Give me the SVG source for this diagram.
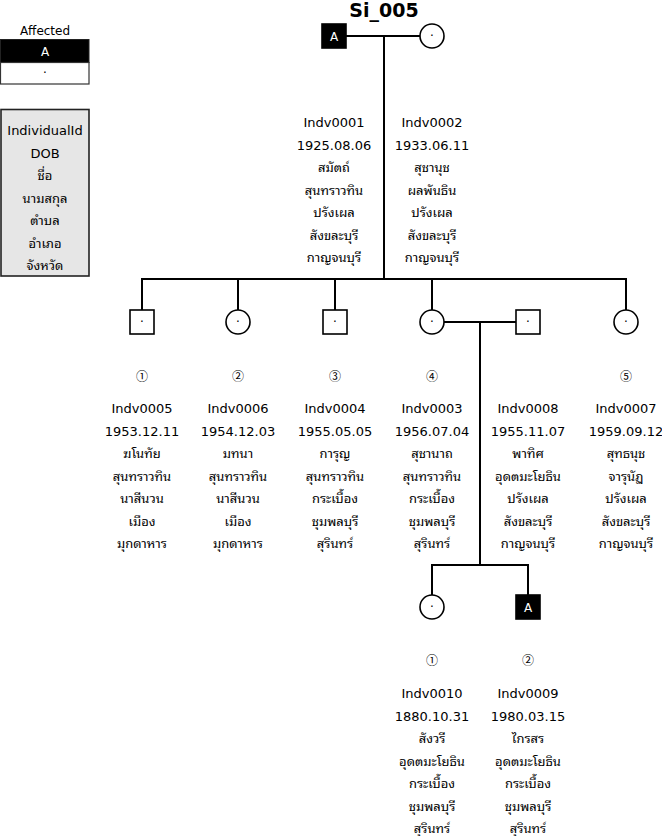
<svg xmlns="http://www.w3.org/2000/svg" width="662" height="836" viewBox="0 0 662 836">
<style>
text{font-family:"DejaVu Sans","Noto Sans Thai Looped","Noto Serif Thai","Noto Sans",sans-serif;text-anchor:middle;fill:#000}
.lbl{font-size:13px}
.sym{fill:#fff;stroke:#000;stroke-width:1.6}
.aff{fill:#000;stroke:#000;stroke-width:1.6}
.wt{fill:#fff;font-size:12px}
.dot{font-size:12px}
.num{font-size:12px;font-family:"Noto Sans CJK SC","Noto Sans CJK JP",sans-serif}
.ln{stroke:#000;stroke-width:2;fill:none}
</style>
<rect width="662" height="836" fill="#fff"/>
<text x="384" y="17" style="font-size:19px;font-weight:bold">Si_005</text>

<g id="legend-affected">
<text x="45" y="35" style="font-size:12px">Affected</text>
<rect x="0.5" y="39.5" width="88.5" height="23" fill="#000" stroke="#222" stroke-width="1"/>
<text x="45" y="56" class="wt">A</text>
<rect x="0.5" y="62.5" width="88.5" height="21.5" fill="#fff" stroke="#333" stroke-width="1.2"/>
<text x="45" y="77" class="dot">·</text>
</g>

<g id="legend-fields">
<rect x="1" y="109.5" width="88" height="166.5" fill="#e6e6e6" stroke="#222" stroke-width="1.6"/>
<text class="lbl" x="45" y="135">IndividualId</text>
<text class="lbl" x="45" y="157.5">DOB</text>
<text class="lbl" x="45" y="180">ชื่อ</text>
<text class="lbl" x="45" y="202.5">นามสกุล</text>
<text class="lbl" x="45" y="225">ตำบล</text>
<text class="lbl" x="45" y="247.5">อำเภอ</text>
<text class="lbl" x="45" y="270">จังหวัด</text>
</g>

<g id="connectors">
<line class="ln" x1="346" y1="36" x2="420" y2="36"/>
<line class="ln" x1="384" y1="36" x2="384" y2="279"/>
<line class="ln" x1="141" y1="279" x2="627" y2="279"/>
<line class="ln" x1="142" y1="279" x2="142" y2="310"/>
<line class="ln" x1="238" y1="279" x2="238" y2="310"/>
<line class="ln" x1="335" y1="279" x2="335" y2="310"/>
<line class="ln" x1="432" y1="279" x2="432" y2="310"/>
<line class="ln" x1="626" y1="279" x2="626" y2="310"/>
<line class="ln" x1="444" y1="322" x2="516" y2="322"/>
<line class="ln" x1="480" y1="322" x2="480" y2="565"/>
<line class="ln" x1="431" y1="565" x2="529" y2="565"/>
<line class="ln" x1="432" y1="565" x2="432" y2="595"/>
<line class="ln" x1="528" y1="565" x2="528" y2="595"/>
</g>

<g id="Indv0001">
<rect class="aff" x="322" y="24" width="24" height="24"/>
<text x="334" y="40.5" class="wt">A</text>
<text class="lbl" x="334" y="127">Indv0001</text>
<text class="lbl" x="334" y="149.5">1925.08.06</text>
<text class="lbl" x="334" y="172">สมัตถ์</text>
<text class="lbl" x="334" y="194.5">สุนทราวทิน</text>
<text class="lbl" x="334" y="217">ปรังเผล</text>
<text class="lbl" x="334" y="239.5">สังขละบุรี</text>
<text class="lbl" x="334" y="262">กาญจนบุรี</text>
</g>

<g id="Indv0002">
<circle class="sym" cx="432" cy="36" r="12"/>
<text x="432" y="40" class="dot">·</text>
<text class="lbl" x="432" y="127">Indv0002</text>
<text class="lbl" x="432" y="149.5">1933.06.11</text>
<text class="lbl" x="432" y="172">สุชานุช</text>
<text class="lbl" x="432" y="194.5">ผลพันธิน</text>
<text class="lbl" x="432" y="217">ปรังเผล</text>
<text class="lbl" x="432" y="239.5">สังขละบุรี</text>
<text class="lbl" x="432" y="262">กาญจนบุรี</text>
</g>

<g id="Indv0005">
<rect class="sym" x="130" y="310" width="24" height="24"/>
<text x="142" y="326" class="dot">·</text>
<text class="num" x="142" y="381">①</text>
<text class="lbl" x="142" y="413">Indv0005</text>
<text class="lbl" x="142" y="435.5">1953.12.11</text>
<text class="lbl" x="142" y="458">ฆโนทัย</text>
<text class="lbl" x="142" y="480.5">สุนทราวทิน</text>
<text class="lbl" x="142" y="503">นาสีนวน</text>
<text class="lbl" x="142" y="525.5">เมือง</text>
<text class="lbl" x="142" y="548">มุกดาหาร</text>
</g>

<g id="Indv0006">
<circle class="sym" cx="238" cy="322" r="12"/>
<text x="238" y="326" class="dot">·</text>
<text class="num" x="238" y="381">②</text>
<text class="lbl" x="238" y="413">Indv0006</text>
<text class="lbl" x="238" y="435.5">1954.12.03</text>
<text class="lbl" x="238" y="458">มทนา</text>
<text class="lbl" x="238" y="480.5">สุนทราวทิน</text>
<text class="lbl" x="238" y="503">นาสีนวน</text>
<text class="lbl" x="238" y="525.5">เมือง</text>
<text class="lbl" x="238" y="548">มุกดาหาร</text>
</g>

<g id="Indv0004">
<rect class="sym" x="323" y="310" width="24" height="24"/>
<text x="335" y="326" class="dot">·</text>
<text class="num" x="335" y="381">③</text>
<text class="lbl" x="335" y="413">Indv0004</text>
<text class="lbl" x="335" y="435.5">1955.05.05</text>
<text class="lbl" x="335" y="458">การุญ</text>
<text class="lbl" x="335" y="480.5">สุนทราวทิน</text>
<text class="lbl" x="335" y="503">กระเบื้อง</text>
<text class="lbl" x="335" y="525.5">ชุมพลบุรี</text>
<text class="lbl" x="335" y="548">สุรินทร์</text>
</g>

<g id="Indv0003">
<circle class="sym" cx="432" cy="322" r="12"/>
<text x="432" y="326" class="dot">·</text>
<text class="num" x="432" y="381">④</text>
<text class="lbl" x="432" y="413">Indv0003</text>
<text class="lbl" x="432" y="435.5">1956.07.04</text>
<text class="lbl" x="432" y="458">สุชานาถ</text>
<text class="lbl" x="432" y="480.5">สุนทราวทิน</text>
<text class="lbl" x="432" y="503">กระเบื้อง</text>
<text class="lbl" x="432" y="525.5">ชุมพลบุรี</text>
<text class="lbl" x="432" y="548">สุรินทร์</text>
</g>

<g id="Indv0008">
<rect class="sym" x="516" y="310" width="24" height="24"/>
<text x="528" y="326" class="dot">·</text>
<text class="lbl" x="528" y="413">Indv0008</text>
<text class="lbl" x="528" y="435.5">1955.11.07</text>
<text class="lbl" x="528" y="458">พาทิศ</text>
<text class="lbl" x="528" y="480.5">อุดตมะโยธิน</text>
<text class="lbl" x="528" y="503">ปรังเผล</text>
<text class="lbl" x="528" y="525.5">สังขละบุรี</text>
<text class="lbl" x="528" y="548">กาญจนบุรี</text>
</g>

<g id="Indv0007">
<circle class="sym" cx="626" cy="322" r="12"/>
<text x="626" y="326" class="dot">·</text>
<text class="num" x="626" y="381">⑤</text>
<text class="lbl" x="626" y="413">Indv0007</text>
<text class="lbl" x="626" y="435.5">1959.09.12</text>
<text class="lbl" x="626" y="458">สุทธนุช</text>
<text class="lbl" x="626" y="480.5">จารุนัฏ</text>
<text class="lbl" x="626" y="503">ปรังเผล</text>
<text class="lbl" x="626" y="525.5">สังขละบุรี</text>
<text class="lbl" x="626" y="548">กาญจนบุรี</text>
</g>

<g id="Indv0010">
<circle class="sym" cx="432" cy="607" r="12"/>
<text x="432" y="611" class="dot">·</text>
<text class="num" x="432" y="665">①</text>
<text class="lbl" x="432" y="698">Indv0010</text>
<text class="lbl" x="432" y="720.5">1880.10.31</text>
<text class="lbl" x="432" y="743">สังวรี</text>
<text class="lbl" x="432" y="765.5">อุดตมะโยธิน</text>
<text class="lbl" x="432" y="788">กระเบื้อง</text>
<text class="lbl" x="432" y="810.5">ชุมพลบุรี</text>
<text class="lbl" x="432" y="833">สุรินทร์</text>
</g>

<g id="Indv0009">
<rect class="aff" x="516" y="595" width="24" height="24"/>
<text x="528" y="611.5" class="wt">A</text>
<text class="num" x="528" y="665">②</text>
<text class="lbl" x="528" y="698">Indv0009</text>
<text class="lbl" x="528" y="720.5">1980.03.15</text>
<text class="lbl" x="528" y="743">ไกรสร</text>
<text class="lbl" x="528" y="765.5">อุดตมะโยธิน</text>
<text class="lbl" x="528" y="788">กระเบื้อง</text>
<text class="lbl" x="528" y="810.5">ชุมพลบุรี</text>
<text class="lbl" x="528" y="833">สุรินทร์</text>
</g>
</svg>
